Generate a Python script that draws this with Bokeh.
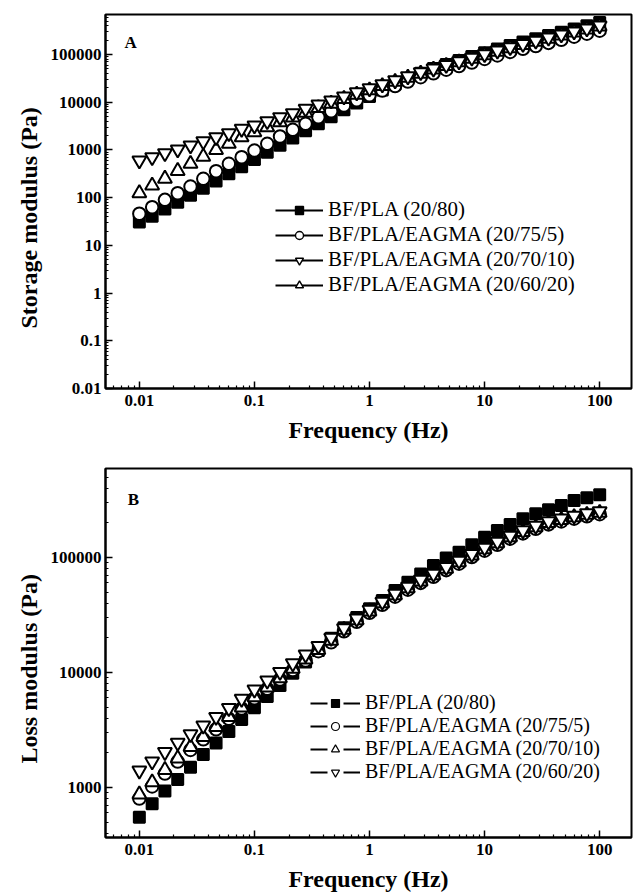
from bokeh.plotting import figure
from bokeh.models import (Range1d, FixedTicker, CustomJSTickFormatter, Legend, LegendItem, Label, Title)
from bokeh.layouts import column
from bokeh.embed import file_html
from bokeh.resources import INLINE

# ---------------- data ----------------
freq = [0.01, 0.01292, 0.01668, 0.02154, 0.02783, 0.03594, 0.04642, 0.05995, 0.07743,
        0.1, 0.1292, 0.1668, 0.2154, 0.2783, 0.3594, 0.4642, 0.5995, 0.7743,
        1.0, 1.292, 1.668, 2.154, 2.783, 3.594, 4.642, 5.995, 7.743,
        10.0, 12.92, 16.68, 21.54, 27.83, 35.94, 46.42, 59.95, 77.43, 100.0]

labels_top = ["BF/PLA (20/80)", "BF/PLA/EAGMA (20/75/5)", "BF/PLA/EAGMA (20/70/10)", "BF/PLA/EAGMA (20/60/20)"]
labels_bot = ["BF/PLA (20/80)", "BF/PLA/EAGMA (20/75/5)", "BF/PLA/EAGMA (20/70/10)", "BF/PLA/EAGMA (20/60/20)"]

# Panel A: storage modulus (Pa)
gp_square = [31, 41, 58, 80, 112, 158, 224, 316, 447, 631, 891, 1259, 1778, 2512, 3532, 4966,
             6934, 9683, 13180, 17990, 23930, 31120, 40740, 50820, 61940, 75340, 90570, 108900,
             130000, 154900, 182000, 213800, 251200, 293800, 343600, 399900, 466700]
gp_circle = [46, 63, 90, 124, 171, 248, 359, 512, 705, 973, 1346, 1914, 2642, 3532, 4864, 6486,
             8531, 10990, 13960, 17580, 21830, 27100, 33500, 40360, 48080, 57150, 67920, 80720,
             95720, 113200, 132100, 150700, 175400, 203700, 236600, 273500, 315500]
gp_tri_down = [601, 705, 855, 1021, 1239, 1514, 1849, 2244, 2773, 3251, 4009, 4864, 5888, 7295,
               8974, 10860, 13210, 16070, 19500, 23710, 28770, 34910, 42660, 50820, 60530, 71940,
               85510, 101600, 120500, 142600, 166300, 194100, 225900, 262400, 304800, 352400, 406400]
gp_tri_up = [124, 180, 251, 363, 512, 724, 1000, 1349, 1849, 2355, 3000, 3819, 4786, 6026, 7586,
             9333, 11750, 14450, 17780, 21880, 26920, 32730, 39810, 48530, 57810, 68710, 81660,
             97050, 115100, 136100, 158900, 185400, 215800, 250600, 291100, 336500, 388200]

# Panel B: loss modulus (Pa)
gpp_square = [550, 720, 930, 1170, 1500, 1930, 2430, 3070, 3900, 4930, 6180, 7700, 9860, 12300,
              15500, 19800, 24500, 30000, 35800, 42300, 51600, 61000, 72000, 85000, 99000, 111000,
              129000, 150000, 172000, 194000, 217000, 240000, 260000, 283000, 313000, 330000, 351000]
gpp_circle = [800, 1020, 1320, 1680, 2120, 2620, 3200, 3950, 4850, 5950, 7200, 8700, 10500, 12700,
              15300, 18300, 22800, 27600, 33000, 38800, 45600, 52400, 60100, 67900, 77600, 88300,
              100900, 114500, 129000, 145500, 162000, 177500, 194000, 205600, 217300, 228000, 237700]
gpp_tri_up = [870, 1110, 1420, 1790, 2250, 2750, 3350, 4100, 4950, 6100, 7400, 8900, 10800, 13000,
              15700, 18900, 23500, 28500, 34000, 40000, 47000, 54000, 62000, 70000, 80000, 91000,
              104000, 118000, 133000, 150000, 167000, 183000, 200000, 212000, 224000, 235000, 245000]
gpp_tri_down = [1400, 1680, 2030, 2450, 2900, 3450, 4100, 4900, 5900, 7100, 8500, 10100, 12000,
                14300, 17000, 20000, 24200, 29400, 35000, 41200, 48400, 55600, 63900, 72100, 82400,
                93700, 107100, 121500, 137000, 154500, 172000, 188500, 206000, 218400, 230700,
                242100, 252400]

x_major = [0.01, 0.1, 1, 10, 100]
y_major_top = [0.01, 0.1, 1, 10, 100, 1000, 10000, 100000]
y_major_bot = [1000, 10000, 100000]

SERIF = "Liberation Serif"
NAN = [float("nan")]


def minor_list(lo_exp, hi_exp, lo, hi):
    out = []
    for e in range(lo_exp, hi_exp + 1):
        for m in range(2, 10):
            v = m * 10.0 ** e
            if lo < v < hi:
                out.append(v)
    return out


fmt = CustomJSTickFormatter(code="return tick.toString();")


def make_fig(height, ylo, yhi, ymajor, bt, bb, ytitle, yoff):
    p = figure(width=633, height=height, x_axis_type="log", y_axis_type="log",
               x_range=Range1d(0.00508, 189), y_range=Range1d(ylo, yhi),
               output_backend="svg", toolbar_location=None,
               min_border_left=105, min_border_right=2, min_border_top=bt, min_border_bottom=bb,
               background_fill_color="white", border_fill_color="white")
    p.grid.visible = False
    p.outline_line_color = "black"
    p.outline_line_width = 2
    p.xaxis.ticker = FixedTicker(ticks=x_major, minor_ticks=minor_list(-3, 2, 0.00508, 189))
    p.yaxis.ticker = FixedTicker(ticks=ymajor, minor_ticks=minor_list(-3, 6, ylo, yhi))
    for ax in (p.xaxis[0], p.yaxis[0]):
        ax.formatter = fmt
        ax.axis_line_width = 2
        ax.major_tick_in = 7
        ax.major_tick_out = 0
        ax.minor_tick_in = 3
        ax.minor_tick_out = 0
        ax.major_tick_line_width = 1.5
        ax.minor_tick_line_width = 1.2
        ax.major_label_text_font = SERIF
        ax.major_label_text_font_style = "bold"
        ax.major_label_text_font_size = "17px"
        ax.major_label_text_color = "black"
        ax.axis_label_text_font = SERIF
        ax.axis_label_text_font_style = "bold"
        ax.axis_label_text_font_size = "24px"
        ax.axis_label_text_color = "black"
    p.xaxis.axis_label = "Frequency (Hz)"
    p.xaxis.major_label_standoff = 6
    p.xaxis.axis_label_standoff = 8
    p.yaxis.major_label_standoff = 4
    p.add_layout(Title(text=ytitle, align="left", offset=yoff, standoff=11, text_font=SERIF,
                       text_font_style="bold", text_font_size="24px", text_color="black"),
                 "left")
    return p


def add_series(p, ys, marker, size, fill):
    p.scatter(freq, ys, marker=marker, size=size, line_color="black", line_width=2,
              fill_color=fill)


# ---------------- panel A ----------------
p1 = make_fig(450, 0.01, 690000, y_major_top, 14, 62, "Storage modulus (Pa)", 60)
add_series(p1, gp_square, "square", 11, "black")
add_series(p1, gp_circle, "circle", 12.5, "white")
add_series(p1, gp_tri_up, "triangle", 14, "white")
add_series(p1, gp_tri_down, "inverted_triangle", 14, "white")

items1 = []
for lab, mk, fc in zip(labels_top, ["square", "circle", "inverted_triangle", "triangle"],
                       ["black", "white", "white", "white"]):
    lr = p1.line(x=NAN, y=NAN, line_color="black", line_width=2)
    sr = p1.scatter(x=NAN, y=NAN, marker=mk, line_color="black", line_width=1.4, fill_color=fc)
    items1.append(LegendItem(label=lab, renderers=[lr, sr]))
leg1 = Legend(items=items1, location=(170, 91), border_line_alpha=0, background_fill_alpha=0,
              padding=0, margin=0, spacing=0, glyph_width=48, glyph_height=20, label_height=20,
              label_standoff=5, label_text_font=SERIF, label_text_font_size="21px",
              label_text_color="black")
p1.add_layout(leg1)
p1.add_layout(Label(x=0.00838, y=178600, text="A", text_font=SERIF, text_font_style="bold",
                    text_font_size="17px", text_color="black", text_align="center",
                    text_baseline="middle"))

# ---------------- panel B ----------------
p2 = make_fig(446, 367, 594000, y_major_bot, 18, 59, "Loss modulus (Pa)", 74)
add_series(p2, gpp_square, "square", 11, "black")
add_series(p2, gpp_circle, "circle", 12.5, "white")
add_series(p2, gpp_tri_up, "triangle", 14, "white")
add_series(p2, gpp_tri_down, "inverted_triangle", 14, "white")

items2 = []
for lab, mk, fc in zip(labels_bot, ["square", "circle", "triangle", "inverted_triangle"],
                       ["black", "white", "white", "white"]):
    lr = p2.line(x=NAN, y=NAN, line_color="black", line_width=2, line_dash="17 16")
    sr = p2.scatter(x=NAN, y=NAN, marker=mk, line_color="black", line_width=1.2, fill_color=fc)
    items2.append(LegendItem(label=lab, renderers=[lr, sr]))
leg2 = Legend(items=items2, location=(205, 54), border_line_alpha=0, background_fill_alpha=0,
              padding=0, margin=0, spacing=0, glyph_width=50, glyph_height=20, label_height=20,
              label_standoff=5, label_text_font=SERIF, label_text_font_size="20px",
              label_text_color="black")
p2.add_layout(leg2)
p2.add_layout(Label(x=0.00889, y=319000, text="B", text_font=SERIF, text_font_style="bold",
                    text_font_size="17px", text_color="black", text_align="center",
                    text_baseline="middle"))

layout = column(p1, p2, spacing=0)
open("out.html", "w").write(file_html(layout, INLINE))
